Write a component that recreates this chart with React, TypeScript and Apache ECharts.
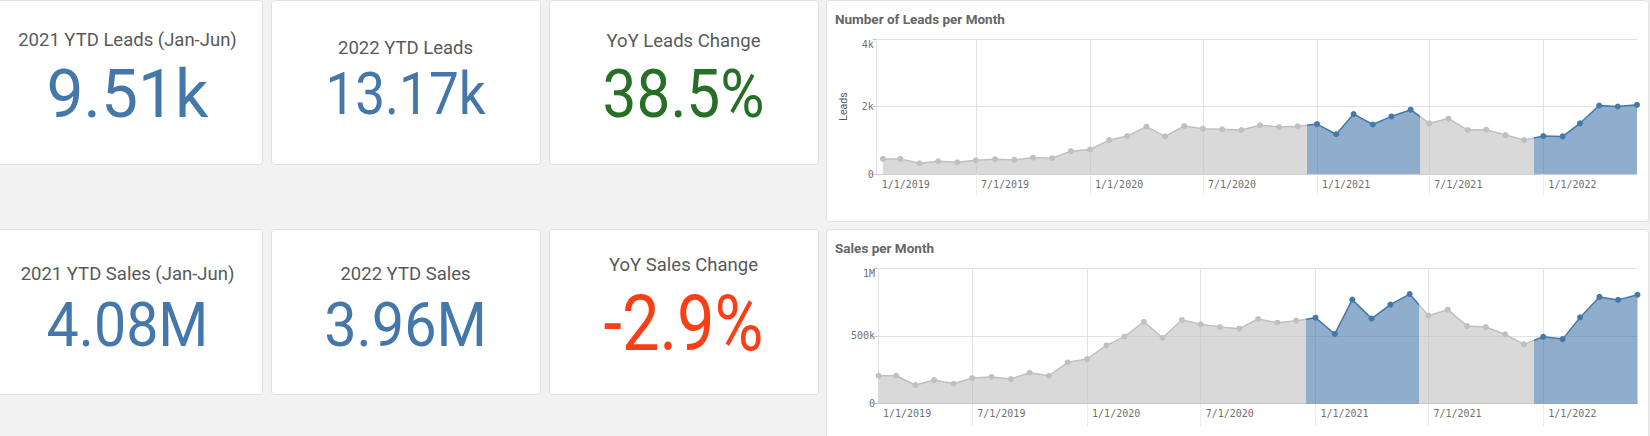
import React, { useEffect, useRef } from "react";
import * as echarts from "echarts";

// ---------- DATA ----------
const monthStarts = [
  "2019-02", "2019-03", "2019-04", "2019-05", "2019-06", "2019-07", "2019-08", "2019-09", "2019-10", "2019-11", "2019-12",
  "2020-01", "2020-02", "2020-03", "2020-04", "2020-05", "2020-06", "2020-07", "2020-08", "2020-09", "2020-10", "2020-11", "2020-12",
  "2021-01", "2021-02", "2021-03", "2021-04", "2021-05", "2021-06", "2021-07", "2021-08", "2021-09", "2021-10", "2021-11", "2021-12",
  "2022-01", "2022-02", "2022-03", "2022-04", "2022-05", "2022-06",
];

const leads = [
  448, 448, 318, 378, 348, 408, 438, 418, 488, 468, 677,
  726, 1005, 1124, 1403, 1114, 1423, 1343, 1323, 1303, 1443, 1393, 1413,
  1478, 1178, 1775, 1467, 1706, 1906, 1502, 1642, 1303, 1313, 1154, 1005,
  1124, 1114, 1502, 2030, 2000, 2050,
];

const sales = [
  206000, 206000, 138000, 174000, 147000, 189000, 197000, 182000, 228000, 206000, 305000,
  329000, 430000, 494000, 604000, 486000, 617000, 585000, 565000, 553000, 624000, 597000, 612000,
  634000, 514000, 767000, 627000, 730000, 808000, 649000, 693000, 572000, 565000, 511000, 437000,
  493000, 476000, 636000, 787000, 765000, 803000,
];

const leadsAxisTicks = [0, 2000, 4000];
const salesAxisTicks = [0, 500000, 1000000];
const halfYearTicks = ["2019-07-01", "2020-01-01", "2020-07-01", "2021-01-01", "2021-07-01", "2022-01-01"];
// highlighted (Jan-Jun) periods: from the midpoint before January to the midpoint after June
const highlightPeriods = [
  ["2020-12-16T12:00:00Z", "2021-06-16T00:00:00Z"],
  ["2021-12-16T12:00:00Z", null],
];

const kpiTitles = [
  "2021 YTD Leads (Jan-Jun)", "2022 YTD Leads", "YoY Leads Change",
  "2021 YTD Sales (Jan-Jun)", "2022 YTD Sales", "YoY Sales Change",
];
const kpiValues = ["9.51k", "13.17k", "38.5%", "4.08M", "3.96M", "-2.9%"];
const kpiColors = ["#4477aa", "#4477aa", "#276e27", "#4477aa", "#4477aa", "#f93f17"];

const chartTitles = ["Number of Leads per Month", "Sales per Month"];

// ---------- HELPERS ----------
const ts = (s: string) => {
  const [y, m, d] = s.split("-").map((x) => parseInt(x, 10));
  return Date.UTC(y, m - 1, d || 1);
};
const seriesData = (vals: number[]) => monthStarts.map((m, i) => [ts(m), vals[i]]);
const halfYearLabel = (v: number) => {
  const d = new Date(v);
  return `${d.getUTCMonth() < 6 ? 1 : 7}/1/${d.getUTCFullYear()}`;
};
const fmtLeads = (v: number) => (v === 0 ? "0" : `${v / 1000}k`);
const fmtSales = (v: number) => (v === 0 ? "0" : v >= 1000000 ? `${v / 1000000}M` : `${v / 1000}k`);

const MONO = "DejaVu Sans Mono";
const SANS = "Roboto";
const GRID_LINE = "#e2e2e2";
const BLUE = "#4477aa";
const GRAY = "#c0c0c0";

// ---------- LAYOUT ----------
const W = 1650;
const H = 436;
const cardX = [-7, 271, 549];
const cardW = 269;
const rowY = [0, 229];
const kpiH = [164, 165];
const chartCard = { x: 826, w: 822 };
const chartCardH = [221, 230];

const titleY = [40, 47.5, 40.5, 273.5, 274, 264.5];
const valueY = [94, 94, 94.5, 325, 325, 324];
const valueSize = [67, 59, 66, 61, 61, 77];
const valueScale = [0.985, 0.9, 0.915, 0.94, 0.945, 0.867];

export default function App() {
  const ref = useRef<HTMLDivElement>(null);

  useEffect(() => {
    if (!ref.current) return;
    const chart = echarts.init(ref.current, undefined, { renderer: "svg", width: W, height: H });

    const halfTs = halfYearTicks.map(ts);
    const xMin = [Date.UTC(2019, 0, 22), Date.UTC(2019, 0, 31)];
    const xMax = Date.UTC(2022, 5, 1);

    const makeX = (gi: number) => ({
      type: "value",
      gridIndex: gi,
      min: xMin[gi],
      max: xMax,
      axisLine: { show: true, lineStyle: { color: "#cfcfcf", width: 1 } },
      axisTick: { show: true, customValues: halfTs, length: 22, lineStyle: { color: "#ececec" } },
      splitLine: { show: true, lineStyle: { color: GRID_LINE, width: 1 } },
      axisLabel: {
        customValues: [xMin[gi], ...halfTs],
        formatter: (v: number) => halfYearLabel(v),
        align: "left",
        padding: [0, 0, 0, 5],
        margin: 5,
        fontFamily: MONO,
        fontSize: 10,
        color: "#707070",
        hideOverlap: false,
      },
    });

    const makeY = (gi: number, ticks: number[], fmt: (v: number) => string, name: string) => {
      const max = ticks[ticks.length - 1];
      return {
        type: "value",
        gridIndex: gi,
        min: ticks[0],
        max,
        interval: ticks[1] - ticks[0],
        name,
        nameLocation: "middle",
        nameGap: 28,
        nameRotate: 90,
        nameTextStyle: { fontFamily: SANS, fontSize: 10.5, color: "#595959" },
        axisLine: { show: true, lineStyle: { color: GRID_LINE } },
        axisTick: { show: true, length: 4, lineStyle: { color: "#c8c8c8" } },
        splitLine: { show: true, lineStyle: { color: GRID_LINE, width: 1 } },
        axisLabel: {
          fontFamily: MONO,
          fontSize: 10,
          color: "#707070",
          margin: 3,
          formatter: (v: number) => (v === max ? `{top|${fmt(v)}}` : fmt(v)),
          rich: { top: { padding: [11, 0, 0, 0], fontFamily: MONO, fontSize: 10, color: "#707070" } },
        },
      };
    };

    const pieces = highlightPeriods.map(([a, b]) => {
      const p: any = { gte: Date.parse(a as string), color: BLUE };
      if (b) p.lt = Date.parse(b as string);
      return p;
    });

    const makeSeries = (gi: number, vals: number[], name: string) => ({
      type: "line",
      name,
      xAxisIndex: gi,
      yAxisIndex: gi,
      data: seriesData(vals),
      symbol: "circle",
      symbolSize: 6,
      showAllSymbol: true,
      lineStyle: { width: 1.5 },
      areaStyle: { opacity: 0.6 },
      emphasis: { disabled: true },
      z: 3,
    });

    const graphics: any[] = [];
    for (let r = 0; r < 2; r++) {
      graphics.push({
        type: "rect",
        z: -10,
        shape: { x: chartCard.x + 0.5, y: rowY[r] + 0.5, width: chartCard.w, height: chartCardH[r], r: 3 },
        style: { fill: "#ffffff", stroke: "#e1e1e1", lineWidth: 1 },
      });
      graphics.push({
        type: "text",
        z: 5,
        x: 835,
        y: r === 0 ? 19 : 248,
        style: {
          text: chartTitles[r],
          fontFamily: SANS,
          fontWeight: "bold",
          fontSize: 13.5,
          fill: "#666666",
          align: "left",
          verticalAlign: "middle",
        },
      });
    }
    for (let i = 0; i < 6; i++) {
      const r = Math.floor(i / 3);
      const c = i % 3;
      const cx = cardX[c] + cardW / 2;
      graphics.push({
        type: "rect",
        z: -10,
        shape: { x: cardX[c] + 0.5, y: rowY[r] + 0.5, width: cardW, height: kpiH[r], r: 3 },
        style: { fill: "#ffffff", stroke: "#e1e1e1", lineWidth: 1 },
      });
      graphics.push({
        type: "text",
        z: 5,
        x: cx,
        y: titleY[i],
        style: {
          text: kpiTitles[i],
          fontFamily: SANS,
          fontSize: 18.5,
          fill: "#595959",
          align: "center",
          verticalAlign: "middle",
        },
      });
      graphics.push({
        type: "text",
        z: 5,
        x: cx,
        y: valueY[i],
        scaleX: valueScale[i],
        style: {
          text: kpiValues[i],
          fontFamily: SANS,
          fontSize: valueSize[i],
          fill: kpiColors[i],
          align: "center",
          verticalAlign: "middle",
        },
      });
    }

    const option: any = {
      animation: false,
      backgroundColor: "#f2f2f2",
      textStyle: { fontFamily: SANS },
      grid: [
        { left: 876.7, right: W - 1637, top: 39, bottom: H - 174 },
        { left: 878, right: W - 1637.5, top: 268, bottom: H - 403.7 },
      ],
      xAxis: [makeX(0), makeX(1)],
      yAxis: [makeY(0, leadsAxisTicks, fmtLeads, "Leads"), makeY(1, salesAxisTicks, fmtSales, "")],
      visualMap: [
        { type: "piecewise", show: false, seriesIndex: 0, dimension: 0, pieces, outOfRange: { color: GRAY } },
        { type: "piecewise", show: false, seriesIndex: 1, dimension: 0, pieces, outOfRange: { color: GRAY } },
      ],
      series: [makeSeries(0, leads, "Leads"), makeSeries(1, sales, "Sales")],
      graphic: { elements: graphics },
    };

    chart.setOption(option);
    return () => chart.dispose();
  }, []);

  return <div ref={ref} style={{ position: "absolute", left: 0, top: 0, width: W, height: H }} />;
}
